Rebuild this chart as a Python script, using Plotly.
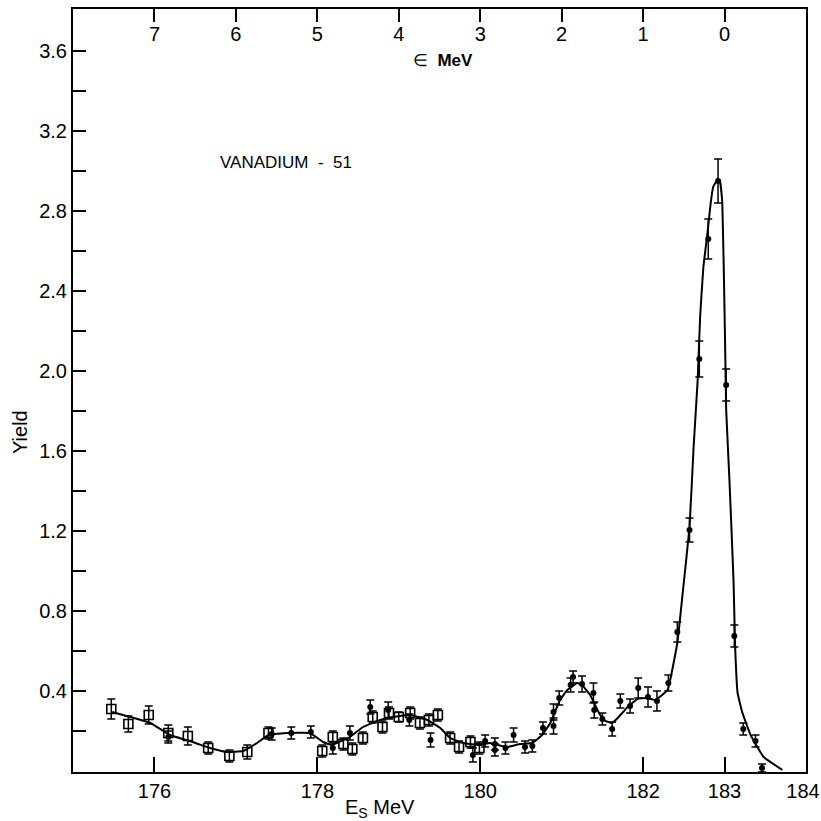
import plotly.graph_objects as go

# ---- data ----
# open squares
sq_E = [175.47, 175.68, 175.93, 176.17, 176.41, 176.66, 176.92, 177.14, 177.40,
        178.06, 178.19, 178.32, 178.43, 178.56, 178.68, 178.80, 178.88, 179.00,
        179.14, 179.26, 179.37, 179.48, 179.63, 179.74, 179.88, 179.99]
sq_Y = [0.31, 0.235, 0.28, 0.19, 0.175, 0.115, 0.075, 0.095, 0.19,
        0.10, 0.17, 0.135, 0.11, 0.165, 0.27, 0.22, 0.29, 0.27,
        0.29, 0.24, 0.255, 0.28, 0.165, 0.12, 0.145, 0.115]
sq_err = [0.05, 0.04, 0.045, 0.04, 0.045, 0.03, 0.03, 0.035, 0.03,
          0.03, 0.03, 0.03, 0.03, 0.03, 0.03, 0.03, 0.03, 0.025,
          0.03, 0.03, 0.03, 0.03, 0.03, 0.03, 0.03, 0.03]

# filled points
dot_E = [176.17, 177.44, 177.68, 177.92, 178.19, 178.40, 178.65, 178.87, 179.13,
         179.39, 179.91, 180.06, 180.18, 180.18, 180.31, 180.41, 180.55, 180.64,
         180.77, 180.90, 180.90, 180.97, 181.11, 181.14, 181.25, 181.39, 181.40,
         181.50, 181.62, 181.72, 181.84, 181.94, 182.06, 182.17, 182.31, 182.42,
         182.57, 182.69, 182.80, 182.92, 183.02, 183.12, 183.23, 183.38, 183.46]
dot_Y = [0.17, 0.185, 0.19, 0.195, 0.115, 0.19, 0.32, 0.305, 0.255,
         0.155, 0.08, 0.15, 0.135, 0.105, 0.115, 0.18, 0.12, 0.125,
         0.215, 0.295, 0.225, 0.365, 0.43, 0.47, 0.435, 0.39, 0.305,
         0.26, 0.21, 0.35, 0.325, 0.415, 0.37, 0.35, 0.44, 0.695,
         1.205, 2.06, 2.66, 2.95, 1.93, 0.675, 0.21, 0.15, 0.015]
dot_err = [0.03, 0.03, 0.03, 0.03, 0.03, 0.035, 0.035, 0.04, 0.03,
           0.035, 0.035, 0.03, 0.03, 0.03, 0.03, 0.035, 0.03, 0.03,
           0.03, 0.04, 0.04, 0.035, 0.035, 0.03, 0.04, 0.05, 0.04,
           0.03, 0.035, 0.035, 0.035, 0.05, 0.05, 0.05, 0.04, 0.05,
           0.06, 0.09, 0.10, 0.11, 0.08, 0.055, 0.03, 0.03, 0.02]

# drawn smooth curve
fit_E = [175.48, 175.95, 176.19, 176.47, 176.68, 176.89, 177.09, 177.26, 177.40,
         177.63, 177.91, 178.07, 178.18, 178.32, 178.40, 178.56, 178.77, 178.93,
         179.14, 179.35, 179.51, 179.63, 179.79, 180.00, 180.12, 180.33, 180.49,
         180.64, 180.76, 180.86, 180.98, 181.07, 181.19, 181.25, 181.35, 181.44,
         181.51, 181.62, 181.70, 181.81, 181.93, 182.05, 182.15, 182.30, 182.42,
         182.49, 182.57, 182.62, 182.67, 182.70, 182.74, 182.79, 182.83, 182.86,
         182.91, 182.94, 182.97, 182.99, 183.01, 183.02, 183.06, 183.11, 183.13,
         183.16, 183.22, 183.32, 183.48, 183.71]
fit_Y = [0.295, 0.24, 0.18, 0.145, 0.115, 0.095, 0.10, 0.14, 0.18,
         0.19, 0.19, 0.145, 0.13, 0.155, 0.17, 0.22, 0.255, 0.27,
         0.28, 0.255, 0.215, 0.165, 0.14, 0.13, 0.14, 0.12, 0.135,
         0.14, 0.18, 0.24, 0.355, 0.405, 0.44, 0.43, 0.38, 0.305,
         0.255, 0.24, 0.27, 0.32, 0.36, 0.365, 0.355, 0.405, 0.64,
         0.905, 1.22, 1.62, 1.955, 2.27, 2.52, 2.69, 2.84, 2.92,
         2.955, 2.955, 2.855, 2.52, 2.055, 1.805, 1.455, 0.955, 0.62,
         0.39, 0.29, 0.18, 0.07, 0.005]

x_ticks = [176, 178, 180, 182, 183]
x_ticktext = ["176", "178", "180", "182", "183"]
x_end_tick = [184]
x_end_text = ["184"]
eps_ticks = [176, 177, 178, 179, 180, 181, 182, 183]
eps_ticktext = ["7", "6", "5", "4", "3", "2", "1", "0"]
y_major = [0.4, 0.8, 1.2, 1.6, 2.0, 2.4, 2.8, 3.2, 3.6]
y_major_text = ["0.4", "0.8", "1.2", "1.6", "2.0", "2.4", "2.8", "3.2", "3.6"]
y_minor = [0.2, 0.6, 1.0, 1.4, 1.8, 2.2, 2.6, 3.0, 3.4]

FONT = "Liberation Sans"
W, H = 821, 821
L, R, T, B = 73, 15, 9, 49
PW, PH = W - L - R, H - T - B


def to_domain(px, py):
    return (px - L) / PW, (H - B - py) / PH


fig = go.Figure()
fig.add_trace(go.Scatter(x=fit_E, y=fit_Y, mode="lines",
                         line=dict(color="black", width=2, shape="spline", smoothing=0.3),
                         hoverinfo="skip", showlegend=False))
fig.add_trace(go.Scatter(x=dot_E, y=dot_Y, mode="markers",
                         marker=dict(symbol="circle", size=6, color="black"),
                         error_y=dict(type="data", array=dot_err, color="black", thickness=1.5, width=4),
                         showlegend=False))
fig.add_trace(go.Scatter(x=sq_E, y=sq_Y, mode="markers",
                         marker=dict(symbol="square-open", size=9, color="black", line=dict(width=1.6)),
                         error_y=dict(type="data", array=sq_err, color="black", thickness=1.5, width=4),
                         showlegend=False))
# invisible traces to carry the top epsilon axis and the end label axis
fig.add_trace(go.Scatter(x=fit_E, y=fit_Y, xaxis="x2", mode="lines",
                         line=dict(width=0, color="rgba(0,0,0,0)"), hoverinfo="skip", showlegend=False))
fig.add_trace(go.Scatter(x=fit_E, y=fit_Y, xaxis="x3", mode="lines",
                         line=dict(width=0, color="rgba(0,0,0,0)"), hoverinfo="skip", showlegend=False))

tf = dict(size=20, color="black", family=FONT)

fig.update_layout(
    width=W, height=H,
    margin=dict(l=L, r=R, t=T, b=B, autoexpand=False),
    paper_bgcolor="white", plot_bgcolor="white",
    font=dict(family=FONT, color="black", size=20),
    xaxis=dict(range=[175, 184], tickmode="array", tickvals=x_ticks, ticktext=x_ticktext,
               ticks="inside", ticklen=15, tickwidth=2, tickcolor="black", automargin=False,
               showline=True, linecolor="black", linewidth=2, mirror=True,
               showgrid=False, zeroline=False, tickfont=tf),
    xaxis3=dict(range=[175, 184], overlaying="x", side="bottom", anchor="y",
                tickmode="array", tickvals=x_end_tick, ticktext=x_end_text,
                ticks="", ticklabelshift=-3, ticklabelstandoff=5,
                ticklabeloverflow="allow", automargin=False,
                showline=False, showgrid=False, zeroline=False, tickfont=tf),
    xaxis2=dict(range=[175, 184], overlaying="x", side="top", anchor="y",
                tickmode="array", tickvals=eps_ticks, ticktext=eps_ticktext,
                ticks="inside", ticklen=13, tickwidth=2, tickcolor="black",
                ticklabelposition="inside", ticklabelstandoff=6, automargin=False,
                showline=True, linecolor="black", linewidth=2,
                showgrid=False, zeroline=False, tickfont=tf),
    yaxis=dict(range=[-0.005, 3.81], tickmode="array", tickvals=y_major, ticktext=y_major_text,
               ticks="inside", ticklen=13, tickwidth=2, tickcolor="black", automargin=False,
               minor=dict(tickmode="array", tickvals=y_minor, ticks="inside", ticklen=13,
                          tickwidth=2, tickcolor="black", showgrid=False),
               showline=True, linecolor="black", linewidth=2, mirror=True,
               showgrid=False, zeroline=False, tickfont=tf),
)

ax, ay = to_domain(218, 162)
ex, ey = to_domain(443, 60)
sx, sy = to_domain(380, 808)
yx, yy = to_domain(20, 432)
fig.update_layout(annotations=[
    dict(text="VANADIUM  -  51", x=ax, y=ay, xref="paper", yref="paper",
         showarrow=False, xanchor="left", yanchor="middle", font=dict(size=17, color="black")),
    dict(text="∈  <b>MeV</b>", x=ex, y=ey, xref="paper", yref="paper",
         showarrow=False, xanchor="center", yanchor="middle", font=dict(size=17, color="black")),
    dict(text="E<sub>S</sub> MeV", x=sx, y=sy, xref="paper", yref="paper",
         showarrow=False, xanchor="center", yanchor="middle", font=dict(size=20, color="black")),
    dict(text="Yield", x=yx, y=yy, xref="paper", yref="paper",
         showarrow=False, textangle=-90, xanchor="center", yanchor="middle", font=dict(size=20, color="black")),
])

fig.write_html("out.html")
